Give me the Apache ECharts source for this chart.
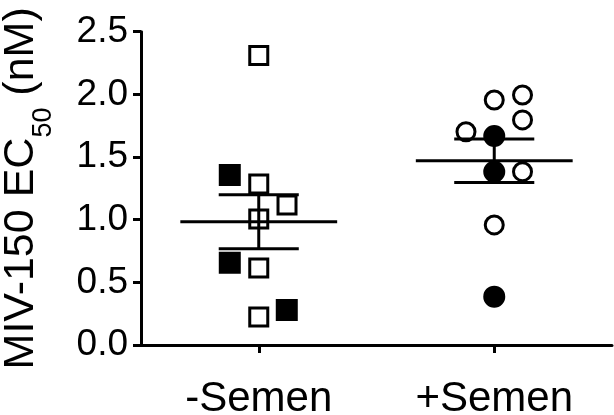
<!DOCTYPE html>
<html>
<head>
<meta charset="utf-8">
<script src="https://cdn.jsdelivr.net/npm/echarts@6/dist/echarts.min.js"></script>
<style>
  html, body { margin: 0; padding: 0; background: #ffffff; }
  #chart { width: 614px; height: 415px; }
</style>
</head>
<body>
<div id="chart"></div>
<script>
// ---- Data ----
const categories = ['-Semen', '+Semen'];
const yTicks = [0.0, 0.5, 1.0, 1.5, 2.0, 2.5];

// -Semen group: open squares and filled squares (value, horizontal jitter in category units)
const minusOpenValues   = [2.31, 1.285, 1.117, 1.006, 0.614, 0.223];
const minusOpenJitter   = [0, 0, 0.12, 0, 0, 0];
const minusFilledValues = [1.357, 0.657, 0.279];
const minusFilledJitter = [-0.123, -0.123, 0.119];

// +Semen group: open circles and filled circles
const plusOpenValues    = [1.955, 1.995, 1.796, 1.702, 1.383, 0.958];
const plusOpenJitter    = [0, 0.12, 0.12, -0.12, 0.12, 0];
const plusFilledValues  = [1.668, 1.383, 0.386];
const plusFilledJitter  = [0, 0, 0];

// ---- Helpers ----
function pts(groupIndex, values, jitter) {
  return values.map((v, i) => [groupIndex + 0.5 + jitter[i], v]);
}
function meanSem(values) {
  const n = values.length;
  const m = values.reduce((a, b) => a + b, 0) / n;
  const sd = Math.sqrt(values.reduce((a, b) => a + (b - m) * (b - m), 0) / (n - 1));
  return [m, sd / Math.sqrt(n)];
}
const minusAll = minusOpenValues.concat(minusFilledValues);
const plusAll = plusOpenValues.concat(plusFilledValues);
const summary = [
  [0.5].concat(meanSem(minusAll)),
  [1.5].concat(meanSem(plusAll))
];

const FONT = 'Liberation Sans';
const chart = echarts.init(document.getElementById('chart'), null, { renderer: 'canvas' });

const option = {
  animation: false,
  backgroundColor: '#ffffff',
  grid: { left: 141, right: 2, top: 31.7, bottom: 70, containLabel: false, outerBoundsMode: 'none' },
  xAxis: [
    {
      type: 'category',
      data: categories,
      boundaryGap: true,
      axisLine: { show: true, lineStyle: { color: '#000', width: 3 } },
      axisTick: { show: true, alignWithLabel: true, length: 8, lineStyle: { color: '#000', width: 3 } },
      axisLabel: { color: '#000', fontSize: 42, fontFamily: FONT, margin: 33 },
      splitLine: { show: false }
    },
    {
      type: 'value',
      min: 0,
      max: 2,
      show: false
    }
  ],
  yAxis: {
    type: 'value',
    min: yTicks[0],
    max: yTicks[yTicks.length - 1],
    interval: 0.5,
    axisLine: { show: true, lineStyle: { color: '#000', width: 3 } },
    axisTick: { show: true, length: 8, lineStyle: { color: '#000', width: 3 } },
    axisLabel: {
      color: '#000', fontSize: 37, fontFamily: FONT, margin: 13,
      formatter: v => v.toFixed(1)
    },
    splitLine: { show: false },
    name: '{a|MIV-150 EC}{b|50}{a| (nM)}',
    nameLocation: 'middle',
    nameGap: 84,
    nameTextStyle: {
      rich: {
        a: { fontSize: 43, fontFamily: FONT, color: '#000', lineHeight: 44, verticalAlign: 'top' },
        b: { fontSize: 27, fontFamily: FONT, color: '#000', lineHeight: 57, verticalAlign: 'bottom' }
      }
    }
  },
  series: [
    {
      type: 'scatter', xAxisIndex: 1, z: 2,
      symbol: 'rect', symbolSize: 18,
      itemStyle: { color: '#fff', borderColor: '#000', borderWidth: 3, opacity: 1 },
      data: pts(0, minusOpenValues, minusOpenJitter)
    },
    {
      type: 'scatter', xAxisIndex: 1, z: 2,
      symbol: 'rect', symbolSize: 19,
      itemStyle: { color: '#000', borderColor: '#000', borderWidth: 3, opacity: 1 },
      data: pts(0, minusFilledValues, minusFilledJitter)
    },
    {
      type: 'scatter', xAxisIndex: 1, z: 2,
      symbol: 'circle', symbolSize: 18,
      itemStyle: { color: '#fff', borderColor: '#000', borderWidth: 3, opacity: 1 },
      data: pts(1, plusOpenValues, plusOpenJitter)
    },
    {
      type: 'scatter', xAxisIndex: 1, z: 2,
      symbol: 'circle', symbolSize: 19,
      itemStyle: { color: '#000', borderColor: '#000', borderWidth: 3, opacity: 1 },
      data: pts(1, plusFilledValues, plusFilledJitter)
    },
    {
      type: 'custom', xAxisIndex: 1, z: 5,
      data: summary,
      renderItem: function (params, api) {
        const cx = api.value(0), m = api.value(1), s = api.value(2);
        const meanHalf = 0.333, whiskHalf = 0.17;
        const style = { stroke: '#000', lineWidth: 3 };
        const ml = api.coord([cx - meanHalf, m]), mr = api.coord([cx + meanHalf, m]);
        const ul = api.coord([cx - whiskHalf, m + s]), ur = api.coord([cx + whiskHalf, m + s]);
        const ll = api.coord([cx - whiskHalf, m - s]), lr = api.coord([cx + whiskHalf, m - s]);
        const vt = api.coord([cx, m + s]), vb = api.coord([cx, m - s]);
        return {
          type: 'group',
          children: [
            { type: 'line', shape: { x1: ml[0], y1: ml[1], x2: mr[0], y2: mr[1] }, style: style },
            { type: 'line', shape: { x1: ul[0], y1: ul[1], x2: ur[0], y2: ur[1] }, style: style },
            { type: 'line', shape: { x1: ll[0], y1: ll[1], x2: lr[0], y2: lr[1] }, style: style },
            { type: 'line', shape: { x1: vt[0], y1: vt[1], x2: vb[0], y2: vb[1] }, style: style }
          ]
        };
      }
    }
  ]
};
chart.setOption(option);
</script>
</body>
</html>
